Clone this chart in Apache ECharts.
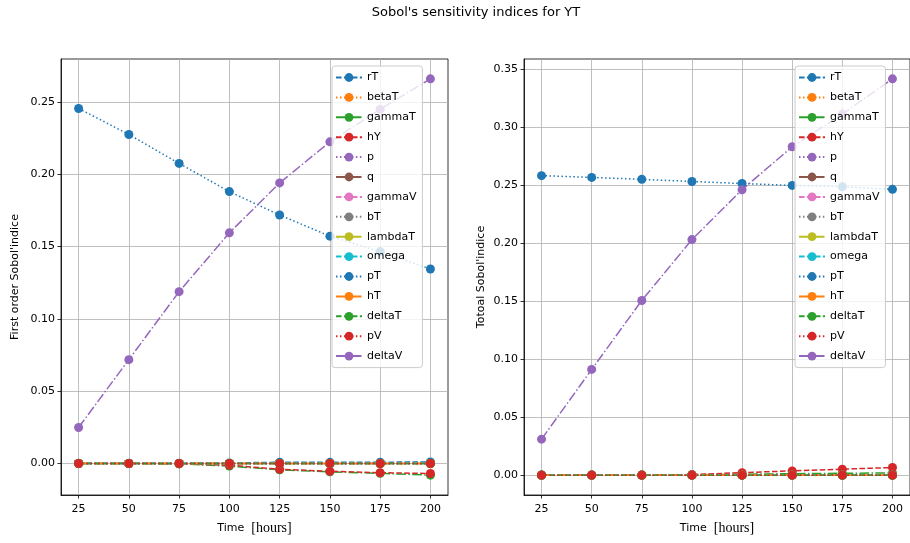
<!DOCTYPE html>
<html>
<head>
<meta charset="utf-8">
<script src="https://cdn.jsdelivr.net/npm/echarts@6/dist/echarts.min.js"></script>
<style>html,body{margin:0;padding:0;background:#fff}#c{width:910px;height:543px}</style>
</head>
<body>
<div id="c"></div>
<script>
// ---------- data ----------
const time = [25, 50, 75, 100, 125, 150, 175, 200];
const paramNames = ['rT','betaT','gammaT','hY','p','q','gammaV','bT','lambdaT','omega','pT','hT','deltaT','pV','deltaV'];
const xTicks = [25, 50, 75, 100, 125, 150, 175, 200];
const yTicksFirst = [0.00, 0.05, 0.10, 0.15, 0.20, 0.25];
const yTicksTotal = [0.00, 0.05, 0.10, 0.15, 0.20, 0.25, 0.30, 0.35];

// First order Sobol' indices
const first_rT      = [0.0001, 0.0001, 0.0002, 0.0004, 0.0008, 0.0008, 0.0009, 0.0010];
const first_betaT   = [0, 0, 0, 0, 0, 0, 0, 0];
const first_gammaT  = [0, 0, -0.0003, -0.0018, -0.0044, -0.0058, -0.0068, -0.0081];
const first_hY      = [0, 0, -0.0002, -0.0012, -0.0040, -0.0054, -0.0064, -0.0069];
const first_p       = [0, 0, 0, 0, 0, 0, 0, 0];
const first_q       = [0, 0, 0, 0, 0, 0, 0, 0];
const first_gammaV  = [0, 0, 0, 0, 0, 0, 0, 0];
const first_bT      = [0, 0, 0, 0, 0, 0, 0, 0];
const first_lambdaT = [0, 0, 0, 0, 0, 0, 0, 0];
const first_omega   = [0, 0, 0, 0, 0, 0, 0, 0];
const first_pT      = [0.2455, 0.2275, 0.2075, 0.1880, 0.1718, 0.1572, 0.1465, 0.1345];
const first_hT      = [0, 0, 0, 0, 0, 0, 0, 0];
const first_deltaT  = [0, 0, 0, 0, 0, 0, 0, 0];
const first_pV      = [0, 0, 0, 0, 0, 0, 0, 0];
const first_deltaV  = [0.0249, 0.0718, 0.1188, 0.1595, 0.1940, 0.2224, 0.2450, 0.2660];

// Total Sobol' indices
const total_rT      = [0.0001, 0.0001, 0.0001, 0.0002, 0.0002, 0.0002, 0.0003, 0.0003];
const total_betaT   = [0, 0, 0, 0, 0, 0, 0, 0];
const total_gammaT  = [0.0001, 0.0001, 0.0002, 0.0004, 0.0008, 0.0013, 0.0016, 0.0020];
const total_hY      = [0, 0.0001, 0.0002, 0.0005, 0.0022, 0.0037, 0.0052, 0.0066];
const total_p       = [0, 0, 0, 0, 0, 0, 0, 0];
const total_q       = [0, 0, 0, 0, 0, 0, 0, 0];
const total_gammaV  = [0, 0, 0, 0, 0, 0, 0, 0];
const total_bT      = [0, 0, 0, 0, 0, 0, 0, 0];
const total_lambdaT = [0, 0, 0, 0, 0, 0, 0, 0];
const total_omega   = [0, 0, 0, 0, 0, 0, 0, 0];
const total_pT      = [0.2580, 0.2565, 0.2548, 0.2530, 0.2512, 0.2496, 0.2485, 0.2462];
const total_hT      = [0, 0, 0, 0, 0, 0, 0, 0];
const total_deltaT  = [0, 0, 0, 0, 0, 0, 0, 0];
const total_pV      = [0, 0, 0, 0, 0, 0, 0, 0];
const total_deltaV  = [0.0310, 0.0911, 0.1505, 0.2029, 0.2459, 0.2829, 0.3110, 0.3414];

const firstOrder = [first_rT, first_betaT, first_gammaT, first_hY, first_p, first_q, first_gammaV, first_bT, first_lambdaT, first_omega, first_pT, first_hT, first_deltaT, first_pV, first_deltaV];
const totalOrder = [total_rT, total_betaT, total_gammaT, total_hY, total_p, total_q, total_gammaV, total_bT, total_lambdaT, total_omega, total_pT, total_hT, total_deltaT, total_pV, total_deltaV];

// ---------- styles ----------
const palette = ['#1f77b4','#ff7f0e','#2ca02c','#d62728','#9467bd','#8c564b','#e377c2','#7f7f7f','#bcbd22','#17becf'];
const dashes = [[5.55, 2.4], [1.5, 2.475], [9.6, 2.4, 1.5, 2.4]];
const FONT = 'DejaVu Sans';

function limits(arrs) {
  let lo = Infinity, hi = -Infinity;
  arrs.forEach(a => a.forEach(v => { lo = Math.min(lo, v); hi = Math.max(hi, v); }));
  const m = (hi - lo) * 0.05;
  return [lo - m, hi + m];
}
const xr = [time[0] - (time[time.length-1]-time[0])*0.05, time[time.length-1] + (time[time.length-1]-time[0])*0.05];
const y1 = limits(firstOrder);
const y2 = limits(totalOrder);

function makeSeries(arrs, idx) {
  return arrs.map((vals, i) => ({
    name: paramNames[i],
    type: 'line',
    xAxisIndex: idx, yAxisIndex: idx,
    data: time.map((t, k) => [t, vals[k]]),
    symbol: 'circle', symbolSize: 9,
    showSymbol: true,
    itemStyle: { color: palette[i % 10] },
    lineStyle: { color: palette[i % 10], width: 1.5, type: dashes[i % 3] },
    emphasis: { disabled: true },
    animation: false,
    z: 2
  }));
}

function xAxis(gi) {
  return {
    type: 'value', gridIndex: gi, min: xr[0], max: xr[1],
    name: '{a|Time  }{b|[hours]}',
    nameLocation: 'middle', nameGap: 26,
    nameTextStyle: { rich: { a: { fontFamily: FONT, fontSize: 11, color: '#000' }, b: { fontFamily: 'Liberation Serif', fontSize: 14, color: '#000' } } },
    axisLine: { show: true, onZero: false, lineStyle: { color: '#000', width: 0.8 } },
    axisTick: { show: true, inside: false, length: 3.5, lineStyle: { color: '#000', width: 0.8 }, customValues: xTicks },
    axisLabel: { customValues: xTicks, fontFamily: FONT, fontSize: 11, color: '#000', margin: 9, formatter: v => String(v) },
    splitLine: { show: true, lineStyle: { color: '#b0b0b0', width: 0.8 } }
  };
}
function yAxis(gi, r, ticks, name, gap) {
  return {
    type: 'value', gridIndex: gi, min: r[0], max: r[1],
    name: name, nameLocation: 'middle', nameGap: gap,
    nameTextStyle: { fontFamily: FONT, fontSize: 11, color: '#000' },
    axisLine: { show: true, onZero: false, lineStyle: { color: '#000', width: 0.8 } },
    axisTick: { show: true, inside: false, length: 3.5, lineStyle: { color: '#000', width: 0.8 }, customValues: ticks },
    axisLabel: { customValues: ticks, fontFamily: FONT, fontSize: 11, color: '#000', margin: 6, formatter: v => v.toFixed(2) },
    splitLine: { show: true, lineStyle: { color: '#b0b0b0', width: 0.8 } }
  };
}
function legend(left) {
  return {
    data: paramNames, orient: 'vertical', left: left, top: 66,
    itemWidth: 26, itemHeight: 11, itemGap: 6.9,
    padding: [5, 6, 5, 3],
    backgroundColor: 'rgba(255,255,255,0.8)', borderColor: '#cccccc', borderWidth: 1, borderRadius: 3,
    textStyle: { fontFamily: FONT, fontSize: 11, color: '#000', lineHeight: 13 },
    selectedMode: false, z: 10
  };
}

const chart = echarts.init(document.getElementById('c'), null, { renderer: 'canvas' });
chart.setOption({
  animation: false,
  backgroundColor: '#fff',
  title: { text: "Sobol's sensitivity indices for YT", left: 471, textAlign: 'center', top: 1,
    textStyle: { fontFamily: FONT, fontSize: 13, fontWeight: 'normal', color: '#000' } },
  grid: [
    { left: 61, top: 59, width: 387, height: 436, show: true, borderColor: '#000', borderWidth: 0.8, backgroundColor: '#fff', containLabel: false },
    { left: 524, top: 59, width: 386, height: 436, show: true, borderColor: '#000', borderWidth: 0.8, backgroundColor: '#fff', containLabel: false }
  ],
  xAxis: [xAxis(0), xAxis(1)],
  yAxis: [yAxis(0, y1, yTicksFirst, "First order Sobol'indice", 40), yAxis(1, y2, yTicksTotal, "Totoal Sobol'indice", 37)],
  legend: [legend(332), legend(795)],
  series: makeSeries(firstOrder, 0).concat(makeSeries(totalOrder, 1))
});
</script>
</body>
</html>
